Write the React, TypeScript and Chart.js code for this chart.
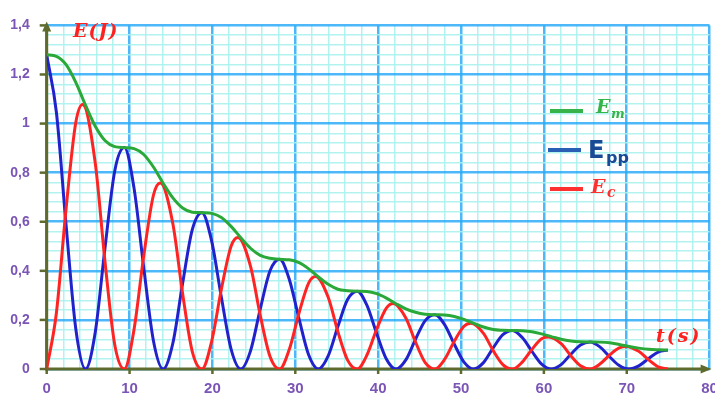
import React, { useEffect, useRef } from 'react';
import { Chart, registerables } from 'chart.js';

Chart.register(...registerables);

// time (s) for Ep and Em
const time = [
  0, 1.17, 2.34, 3.51, 4.68, 5.86, 7.03, 8.2,
  9.37, 10.54, 11.71, 12.88, 14.05, 15.23, 16.4, 17.57,
  18.74, 19.91, 21.08, 22.25, 23.42, 24.6, 25.77, 26.94,
  28.11, 29.28, 30.45, 31.62, 32.79, 33.97, 35.14, 36.31,
  37.48, 38.65, 39.82, 40.99, 42.16, 43.34, 44.51, 45.68,
  46.85, 48.02, 49.19, 50.36, 51.53, 52.71, 53.88, 55.05,
  56.22, 57.39, 58.56, 59.73, 60.9, 62.08, 63.25, 64.42,
  65.59, 66.76, 67.93, 69.1, 70.27, 71.45, 72.62, 73.79,
  74.96,
];

// potential energy Epp (J)
const energyPotential = [
  1.28, 1.046, 0.586, 0.164, 0, 0.150, 0.492, 0.805,
  0.902, 0.737, 0.413, 0.115, 0, 0.106, 0.348, 0.568,
  0.637, 0.521, 0.292, 0.081, 0, 0.074, 0.244, 0.399,
  0.447, 0.365, 0.205, 0.057, 0, 0.053, 0.173, 0.283,
  0.317, 0.259, 0.145, 0.041, 0, 0.037, 0.121, 0.197,
  0.221, 0.181, 0.101, 0.028, 0, 0.026, 0.086, 0.140,
  0.157, 0.128, 0.072, 0.020, 0, 0.018, 0.060, 0.098,
  0.110, 0.090, 0.050, 0.014, 0, 0.013, 0.042, 0.069,
  0.077,
];

// mechanical energy Em (J)
const energyMechanical = [
  1.28, 1.274, 1.240, 1.168, 1.075, 0.989, 0.931, 0.906,
  0.902, 0.898, 0.874, 0.823, 0.757, 0.697, 0.656, 0.639,
  0.637, 0.634, 0.617, 0.581, 0.535, 0.492, 0.463, 0.451,
  0.447, 0.445, 0.433, 0.408, 0.375, 0.345, 0.325, 0.319,
  0.317, 0.316, 0.307, 0.289, 0.266, 0.245, 0.231, 0.223,
  0.221, 0.220, 0.214, 0.202, 0.186, 0.171, 0.161, 0.158,
  0.157, 0.156, 0.152, 0.143, 0.132, 0.121, 0.114, 0.111,
  0.110, 0.1095, 0.107, 0.100, 0.092, 0.085, 0.080, 0.078,
  0.077,
];

// time (s) for Ec
const timeKinetic = [
  0, 1.17, 2.34, 3.51, 4.33, 5.86, 7.03, 8.2,
  9.37, 10.54, 11.71, 12.88, 13.7, 15.23, 16.4, 17.57,
  18.74, 19.91, 21.08, 22.25, 23.07, 24.6, 25.77, 26.94,
  28.11, 29.28, 30.45, 31.62, 32.44, 33.97, 35.14, 36.31,
  37.48, 38.65, 39.82, 40.99, 41.81, 43.34, 44.51, 45.68,
  46.85, 48.02, 49.19, 50.36, 51.18, 52.71, 53.88, 55.05,
  56.22, 57.39, 58.56, 59.73, 60.55, 62.08, 63.25, 64.42,
  65.59, 66.76, 67.93, 69.1, 69.92, 71.45, 72.62, 73.79,
  74.96,
];

// kinetic energy Ec (J)
const energyKinetic = [
  0, 0.228, 0.654, 1.004, 1.078, 0.839, 0.439, 0.101,
  0, 0.161, 0.461, 0.708, 0.758, 0.591, 0.308, 0.071,
  0, 0.113, 0.325, 0.500, 0.536, 0.418, 0.219, 0.052,
  0, 0.080, 0.228, 0.351, 0.377, 0.292, 0.152, 0.036,
  0, 0.057, 0.162, 0.248, 0.267, 0.208, 0.110, 0.026,
  0, 0.039, 0.113, 0.174, 0.186, 0.145, 0.075, 0.018,
  0, 0.028, 0.080, 0.123, 0.130, 0.103, 0.054, 0.013,
  0, 0.020, 0.057, 0.086, 0.092, 0.072, 0.038, 0.009,
  0,
];

const xTickValues = [0, 10, 20, 30, 40, 50, 60, 70, 80];
const xTickLabels = ['0', '10', '20', '30', '40', '50', '60', '70', '80'];
const yTickValues = [0, 0.2, 0.4, 0.6, 0.8, 1, 1.2, 1.4];
const yTickLabels = ['0', '0,2', '0,4', '0,6', '0,8', '1', '1,2', '1,4'];

const AXIS = '#5e6b2c';
const TICK_TEXT = '#7b55b5';
const MAJOR = 'rgba(45,170,248,0.85)';
const MINOR = 'rgba(170,242,238,0.9)';

const isMajorY = (v: number) => yTickValues.some((t) => Math.abs(t - v) < 1e-6);
const isMajorX = (v: number) => xTickValues.some((t) => Math.abs(t - v) < 1e-6);

const decor = {
  id: 'decor',
  beforeDatasetsDraw(chart: any) {
    const { ctx, chartArea: a, scales } = chart;
    const x = scales.x;
    const y = scales.y;
    ctx.save();
    ctx.strokeStyle = AXIS;
    ctx.fillStyle = AXIS;
    ctx.lineWidth = 2.5;
    yTickValues.forEach((v) => {
      const py = y.getPixelForValue(v);
      ctx.beginPath();
      ctx.moveTo(a.left - 7, py);
      ctx.lineTo(a.left, py);
      ctx.stroke();
    });
    xTickValues.forEach((v) => {
      if (v === 80) return;
      const px = x.getPixelForValue(v);
      ctx.beginPath();
      ctx.moveTo(px, a.bottom);
      ctx.lineTo(px, a.bottom + 5);
      ctx.stroke();
    });
    ctx.lineWidth = 3;
    ctx.beginPath();
    ctx.moveTo(a.left, a.bottom + 1.5);
    ctx.lineTo(a.left, a.top - 1);
    ctx.stroke();
    ctx.beginPath();
    ctx.moveTo(a.left - 1.5, a.bottom);
    ctx.lineTo(a.right - 6, a.bottom);
    ctx.stroke();
    ctx.beginPath();
    ctx.moveTo(a.left, a.top - 4);
    ctx.lineTo(a.left - 4.5, a.top + 6);
    ctx.lineTo(a.left + 4.5, a.top + 6);
    ctx.closePath();
    ctx.fill();
    ctx.beginPath();
    ctx.moveTo(a.right + 2, a.bottom);
    ctx.lineTo(a.right - 9, a.bottom - 4.5);
    ctx.lineTo(a.right - 9, a.bottom + 4.5);
    ctx.closePath();
    ctx.fill();
    ctx.restore();
  },
  afterDraw(chart: any) {
    const { ctx, chartArea: a, scales } = chart;
    const x = scales.x;
    ctx.save();
    ctx.fillStyle = TICK_TEXT;
    ctx.font = 'bold 15px "Liberation Sans", sans-serif';
    ctx.textAlign = 'center';
    ctx.textBaseline = 'top';
    xTickValues.forEach((v, i) => {
      ctx.fillText(xTickLabels[i], x.getPixelForValue(v), a.bottom + 12);
    });

    ctx.textAlign = 'left';
    ctx.textBaseline = 'alphabetic';
    ctx.fillStyle = '#ff2020';
    ctx.font = 'bold italic 19px "DejaVu Serif", serif';
    (ctx as any).letterSpacing = '1px';
    ctx.fillText('E(J)', 73, 37);
    ctx.font = 'bold italic 19px "DejaVu Serif", serif';
    (ctx as any).letterSpacing = '2px';
    ctx.fillText('t(s)', 656, 342);
    (ctx as any).letterSpacing = '0px';

    ctx.lineWidth = 4;
    ctx.lineCap = 'butt';
    const seg = (c: string, x0: number, x1: number, yy: number) => {
      ctx.strokeStyle = c;
      ctx.beginPath();
      ctx.moveTo(x0, yy);
      ctx.lineTo(x1, yy);
      ctx.stroke();
    };
    seg('#36b44a', 550, 583, 111);
    seg('#2a5fb6', 548, 581, 150);
    seg('#ff3030', 550, 583, 189);

    ctx.fillStyle = '#36b44a';
    ctx.font = 'bold italic 19px "DejaVu Serif", serif';
    ctx.fillText('E', 596, 113);
    ctx.font = 'bold italic 13px "DejaVu Serif", serif';
    ctx.fillText('m', 611, 118);

    ctx.fillStyle = '#184a96';
    ctx.font = 'bold 24px "DejaVu Sans", sans-serif';
    ctx.fillText('E', 588, 158);
    ctx.font = 'bold 16px "DejaVu Sans", sans-serif';
    ctx.fillText('pp', 606, 163);

    ctx.fillStyle = '#ff3030';
    ctx.font = 'bold italic 19px "DejaVu Serif", serif';
    ctx.fillText('E', 591, 193);
    ctx.font = 'bold italic 14px "DejaVu Serif", serif';
    ctx.fillText('c', 607, 197);
    ctx.restore();
  },
};

export default function App() {
  const ref = useRef<HTMLCanvasElement>(null);
  useEffect(() => {
    const canvas = ref.current;
    if (!canvas) return;
    const chart = new Chart(canvas, {
      type: 'line',
      data: {
        datasets: [
          {
            label: 'Em',
            data: time.map((t, i) => ({ x: t, y: energyMechanical[i] })),
            borderColor: '#2aa838',
          },
          {
            label: 'Ec',
            data: timeKinetic.map((t, i) => ({ x: t, y: energyKinetic[i] })),
            borderColor: '#ff2424',
          },
          {
            label: 'Epp',
            data: time.map((t, i) => ({ x: t, y: energyPotential[i] })),
            borderColor: '#2222cc',
          },
        ],
      },
      options: {
        responsive: false,
        animation: false,
        events: [],
        layout: { padding: { top: 16.5, right: 5.4, left: 0, bottom: 0 } },
        elements: {
          point: { radius: 0 },
          line: { borderWidth: 3, cubicInterpolationMode: 'monotone', fill: false },
        },
        plugins: { legend: { display: false }, tooltip: { enabled: false } },
        scales: {
          x: {
            type: 'linear',
            min: 0,
            max: 80,
            ticks: { stepSize: 2, display: false, autoSkip: false },
            grid: {
              drawTicks: false,
              color: (c: any) => (isMajorX(c.tick.value) ? MAJOR : MINOR),
              lineWidth: (c: any) => (isMajorX(c.tick.value) ? 2.5 : 1.5),
            },
            border: { display: false },
            afterFit: (s: any) => {
              s.height = 26;
            },
          },
          y: {
            type: 'linear',
            min: 0,
            max: 1.4,
            ticks: {
              stepSize: 0.04,
              autoSkip: false,
              padding: 17,
              color: TICK_TEXT,
              font: { family: '"Liberation Sans", sans-serif', size: 14, weight: 'bold' },
              callback: (value: any) => {
                const i = yTickValues.findIndex((v) => Math.abs(v - Number(value)) < 1e-6);
                return i >= 0 ? yTickLabels[i] : '';
              },
            },
            grid: {
              drawTicks: false,
              color: (c: any) => (isMajorY(c.tick.value) ? MAJOR : MINOR),
              lineWidth: (c: any) => (isMajorY(c.tick.value) ? 2.5 : 1.5),
            },
            border: { display: false },
            afterFit: (s: any) => {
              s.width = 46.7;
            },
          },
        },
      } as any,
      plugins: [decor],
    });
    return () => chart.destroy();
  }, []);
  return (
    <canvas
      ref={ref}
      width={715}
      height={395}
      style={{ position: 'absolute', left: 0, top: 0, display: 'block' }}
    />
  );
}
